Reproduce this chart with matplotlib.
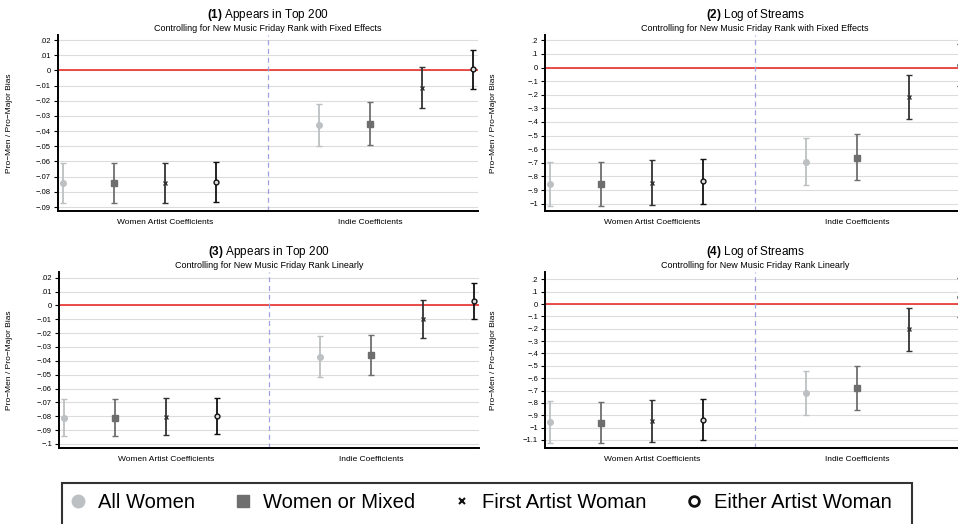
import matplotlib
matplotlib.use("Agg")
import matplotlib.pyplot as plt
from matplotlib.lines import Line2D
from matplotlib.patches import Rectangle
import numpy as np

plt.rcParams['font.family'] = ['Liberation Sans', 'DejaVu Sans']
plt.rcParams['mathtext.fontset'] = 'custom'
plt.rcParams['mathtext.rm'] = 'Liberation Sans'
plt.rcParams['mathtext.bf'] = 'Liberation Sans:bold'

# x positions: women artist coefficients 1-4, indie coefficients 6-9
positions = [1, 2, 3, 4, 6, 7, 8, 9]
group_ticks = [3, 7]
group_labels = ["Women Artist Coefficients", "Indie Coefficients"]

series_names = ["All Women", "Women or Mixed", "First Artist Woman", "Either Artist Woman"]
series_colors = ["#bcc0c2", "#6e6e6e", "#333333", "#111111"]

panel_titles = ["(1)", "(2)", "(3)", "(4)"]
panel_outcomes = ["Appears in Top 200", "Log of Streams", "Appears in Top 200", "Log of Streams"]
panel_subtitles = ["Controlling for New Music Friday Rank with Fixed Effects",
                   "Controlling for New Music Friday Rank with Fixed Effects",
                   "Controlling for New Music Friday Rank Linearly",
                   "Controlling for New Music Friday Rank Linearly"]

# point estimates and 95% CI, ordered by position
p1_coef = [-0.0744, -0.0744, -0.0741, -0.0735, -0.0360, -0.0353, -0.0113, 0.0006]
p1_lo = [-0.0871, -0.0876, -0.0871, -0.0865, -0.0499, -0.0492, -0.0250, -0.0122]
p1_hi = [-0.0613, -0.0613, -0.0607, -0.0602, -0.0219, -0.0208, 0.0021, 0.0132]

p2_coef = [-0.854, -0.856, -0.846, -0.837, -0.695, -0.663, -0.214, 0.018]
p2_lo = [-1.018, -1.018, -1.011, -0.999, -0.866, -0.829, -0.381, -0.138]
p2_hi = [-0.692, -0.692, -0.682, -0.672, -0.520, -0.489, -0.052, 0.175]

p3_coef = [-0.0810, -0.0810, -0.0803, -0.0798, -0.0372, -0.0356, -0.0101, 0.0032]
p3_lo = [-0.0942, -0.0942, -0.0938, -0.0930, -0.0519, -0.0502, -0.0238, -0.0098]
p3_hi = [-0.0678, -0.0678, -0.0671, -0.0666, -0.0223, -0.0211, 0.0036, 0.0159]

p4_coef = [-0.957, -0.962, -0.946, -0.935, -0.722, -0.679, -0.205, 0.057]
p4_lo = [-1.121, -1.127, -1.113, -1.103, -0.898, -0.854, -0.377, -0.105]
p4_hi = [-0.787, -0.792, -0.779, -0.771, -0.544, -0.504, -0.035, 0.211]

p1_ticks = [0.02, 0.01, 0, -0.01, -0.02, -0.03, -0.04, -0.05, -0.06, -0.07, -0.08, -0.09]
p2_ticks = [0.2, 0.1, 0, -0.1, -0.2, -0.3, -0.4, -0.5, -0.6, -0.7, -0.8, -0.9, -1]
p3_ticks = [0.02, 0.01, 0, -0.01, -0.02, -0.03, -0.04, -0.05, -0.06, -0.07, -0.08, -0.09, -0.1]
p4_ticks = [0.2, 0.1, 0, -0.1, -0.2, -0.3, -0.4, -0.5, -0.6, -0.7, -0.8, -0.9, -1, -1.1]

panels = [
    (p1_coef, p1_lo, p1_hi, p1_ticks, (-0.0926, 0.0233)),
    (p2_coef, p2_lo, p2_hi, p2_ticks, (-1.054, 0.239)),
    (p3_coef, p3_lo, p3_hi, p3_ticks, (-0.1029, 0.0241)),
    (p4_coef, p4_lo, p4_hi, p4_ticks, (-1.165, 0.259)),
]

markers = ['o', 's', 'x', 'o']
msizes = [4, 5, 2.5, 3.5]


def stata_fmt(v):
    if abs(v) < 1e-12:
        return "0"
    s = f"{abs(v):g}"
    if s.startswith("0."):
        s = s[1:]
    return ("\u2212" if v < 0 else "") + s


W, H = 958, 524
fig = plt.figure(figsize=(W / 100, H / 100), dpi=100)

# axes boxes in pixels: left, top, bottom
boxes = [(58, 35, 211), (545, 35, 211), (59, 272, 448), (545, 272, 448)]
ax_w = 420

for i, (coef, lo, hi, ticks, ylim) in enumerate(panels):
    left, top, bottom = boxes[i]
    ax = fig.add_axes([left / W, (H - bottom) / H, ax_w / W, (bottom - top) / H])
    coef = np.array(coef)
    lo = np.array(lo)
    hi = np.array(hi)
    pos = np.array(positions)

    ax.set_xlim(0.91, 9.1)
    ax.set_ylim(*ylim)
    ax.set_yticks(ticks)
    ax.set_yticklabels([stata_fmt(t) for t in ticks], fontsize=5.5)
    ax.yaxis.grid(True, color="#dcdcdc", lw=0.8)
    ax.set_axisbelow(True)
    ax.axhline(0, color="#e8302a", lw=1.2, zorder=2)
    ax.axvline(5, color="#a0a0e0", lw=0.9, ls=(0, (4, 3)), zorder=2)

    for k in range(4):
        idx = [k, k + 4]
        c = series_colors[k]
        mfc = "#dddddd" if k == 3 else c
        ax.errorbar(pos[idx], coef[idx], yerr=[coef[idx] - lo[idx], hi[idx] - coef[idx]],
                    fmt=markers[k], color=c, ecolor=c, mfc=mfc, mec=c, ms=msizes[k],
                    mew=1.0, elinewidth=1.3, capsize=2.5, capthick=1.0, zorder=3,
                    clip_on=True)

    ax.set_xticks(group_ticks)
    ax.set_xticklabels(group_labels, fontsize=6)
    ax.tick_params(axis='x', length=0, pad=6)
    ax.tick_params(axis='y', length=3, width=0.8, pad=2)
    for s in ["top", "right"]:
        ax.spines[s].set_visible(False)
    for s in ["left", "bottom"]:
        ax.spines[s].set_linewidth(1.4)
    ax.set_ylabel("Pro\u2212Men / Pro\u2212Major Bias", fontsize=6)
    lab_x = 13 if i % 2 == 0 else 497
    ax.yaxis.set_label_coords((lab_x - left) / ax_w, 0.5)

    ax.annotate(r"$\mathbf{" + panel_titles[i] + "}$ " + panel_outcomes[i],
                xy=(0.5, 1), xycoords="axes fraction", xytext=(0, 14.5),
                textcoords="offset points", ha="center", va="center", fontsize=8.5)
    ax.annotate(panel_subtitles[i], xy=(0.5, 1), xycoords="axes fraction",
                xytext=(0, 5), textcoords="offset points", ha="center",
                va="center", fontsize=6.5)

# legend entries, with its frame drawn as a separate box running off the bottom edge
handles = [
    Line2D([], [], marker='o', ls='none', color=series_colors[0], ms=9),
    Line2D([], [], marker='s', ls='none', color=series_colors[1], ms=9),
    Line2D([], [], marker='x', ls='none', color=series_colors[3], ms=5, mew=1.5),
    Line2D([], [], marker='o', ls='none', mfc='white', mec=series_colors[3], ms=7, mew=2),
]
leg = fig.legend(handles, series_names, ncol=4, loc="center",
                 bbox_to_anchor=(0.5, (H - 503) / H), borderaxespad=0,
                 fontsize=14.5, frameon=False,
                 handletextpad=0.4, columnspacing=1.75, handlelength=1.2)
fig.patches.append(Rectangle((62 / W, -10 / H), (912 - 62) / W, (H - 483 + 10) / H,
                             transform=fig.transFigure, fill=False,
                             edgecolor="#333333", lw=1.5))

fig.savefig("out.png", dpi=100)
